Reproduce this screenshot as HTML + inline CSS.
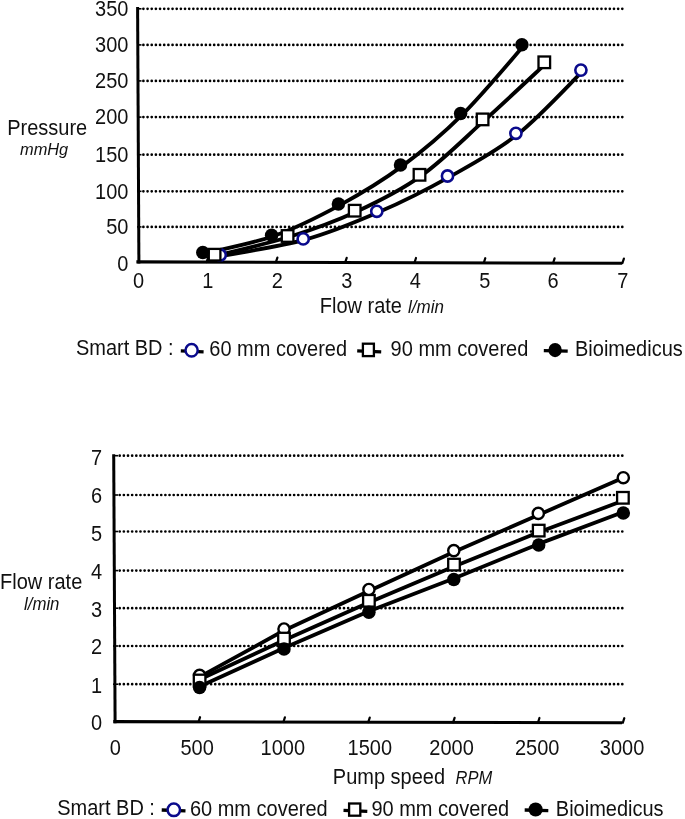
<!DOCTYPE html>
<html><head><meta charset="utf-8"><title>Chart</title>
<style>
html,body{margin:0;padding:0;background:#fff;}
body{width:685px;height:819px;overflow:hidden;}
svg{display:block;filter:blur(0.4px);}
text{font-family:"Liberation Sans",sans-serif;fill:#111;}
</style></head>
<body>
<svg width="685" height="819" viewBox="0 0 685 819">
<rect width="685" height="819" fill="#fff"/>
<line x1="143.4" y1="8.8" x2="622.45" y2="8.8" stroke="#000" stroke-width="2.7" stroke-linecap="round" stroke-dasharray="0 4.1643"/>
<line x1="137" y1="8.8" x2="141.5" y2="8.8" stroke="#000" stroke-width="1.6"/>
<line x1="143.4" y1="44.9" x2="622.45" y2="44.9" stroke="#000" stroke-width="2.7" stroke-linecap="round" stroke-dasharray="0 4.1643"/>
<line x1="137" y1="44.9" x2="141.5" y2="44.9" stroke="#000" stroke-width="1.6"/>
<line x1="143.4" y1="80.9" x2="622.45" y2="80.9" stroke="#000" stroke-width="2.7" stroke-linecap="round" stroke-dasharray="0 4.1643"/>
<line x1="137" y1="80.9" x2="141.5" y2="80.9" stroke="#000" stroke-width="1.6"/>
<line x1="143.4" y1="117.1" x2="622.45" y2="117.1" stroke="#000" stroke-width="2.7" stroke-linecap="round" stroke-dasharray="0 4.1643"/>
<line x1="137" y1="117.1" x2="141.5" y2="117.1" stroke="#000" stroke-width="1.6"/>
<line x1="143.4" y1="154.7" x2="622.45" y2="154.7" stroke="#000" stroke-width="2.7" stroke-linecap="round" stroke-dasharray="0 4.1643"/>
<line x1="137" y1="154.7" x2="141.5" y2="154.7" stroke="#000" stroke-width="1.6"/>
<line x1="143.4" y1="191.3" x2="622.45" y2="191.3" stroke="#000" stroke-width="2.7" stroke-linecap="round" stroke-dasharray="0 4.1643"/>
<line x1="137" y1="191.3" x2="141.5" y2="191.3" stroke="#000" stroke-width="1.6"/>
<line x1="143.4" y1="226.9" x2="622.45" y2="226.9" stroke="#000" stroke-width="2.7" stroke-linecap="round" stroke-dasharray="0 4.1643"/>
<line x1="137" y1="226.9" x2="141.5" y2="226.9" stroke="#000" stroke-width="1.6"/>
<line x1="137.6" y1="7.0" x2="138.9" y2="263.4" stroke="#000" stroke-width="3"/>
<line x1="136.4" y1="261.9" x2="622" y2="263.3" stroke="#000" stroke-width="3.1" stroke-linecap="butt"/>
<line x1="206.6" y1="262" x2="208.1" y2="257.4" stroke="#000" stroke-width="2.2" stroke-linecap="round"/>
<line x1="275.9" y1="262.2" x2="277.4" y2="257.6" stroke="#000" stroke-width="2.2" stroke-linecap="round"/>
<line x1="345.2" y1="262.4" x2="346.7" y2="257.8" stroke="#000" stroke-width="2.2" stroke-linecap="round"/>
<line x1="414.5" y1="262.6" x2="416" y2="258" stroke="#000" stroke-width="2.2" stroke-linecap="round"/>
<line x1="483.8" y1="262.8" x2="485.3" y2="258.2" stroke="#000" stroke-width="2.2" stroke-linecap="round"/>
<line x1="553.1" y1="263" x2="554.6" y2="258.4" stroke="#000" stroke-width="2.2" stroke-linecap="round"/>
<line x1="622.4" y1="263.2" x2="623.9" y2="258.6" stroke="#000" stroke-width="2.2" stroke-linecap="round"/>
<text transform="translate(128.4 16.1) scale(1 1.06)" font-size="20" text-anchor="end">350</text>
<text transform="translate(128.4 52.2) scale(1 1.06)" font-size="20" text-anchor="end">300</text>
<text transform="translate(128.4 88.2) scale(1 1.06)" font-size="20" text-anchor="end">250</text>
<text transform="translate(128.4 124.4) scale(1 1.06)" font-size="20" text-anchor="end">200</text>
<text transform="translate(128.4 162) scale(1 1.06)" font-size="20" text-anchor="end">150</text>
<text transform="translate(128.4 198.6) scale(1 1.06)" font-size="20" text-anchor="end">100</text>
<text transform="translate(128.4 234.2) scale(1 1.06)" font-size="20" text-anchor="end">50</text>
<text transform="translate(128.4 270.6) scale(1 1.06)" font-size="20" text-anchor="end">0</text>
<text transform="translate(138.6 287.6) scale(1 1.06)" font-size="20" text-anchor="middle">0</text>
<text transform="translate(207.8 287.6) scale(1 1.06)" font-size="20" text-anchor="middle">1</text>
<text transform="translate(277.4 287.6) scale(1 1.06)" font-size="20" text-anchor="middle">2</text>
<text transform="translate(346.7 287.6) scale(1 1.06)" font-size="20" text-anchor="middle">3</text>
<text transform="translate(415.4 287.6) scale(1 1.06)" font-size="20" text-anchor="middle">4</text>
<text transform="translate(484.7 287.6) scale(1 1.06)" font-size="20" text-anchor="middle">5</text>
<text transform="translate(553.1 287.6) scale(1 1.06)" font-size="20" text-anchor="middle">6</text>
<text transform="translate(622.8 287.6) scale(1 1.06)" font-size="20" text-anchor="middle">7</text>
<text transform="translate(7.2 134.5) scale(1 1.06)" font-size="20" text-anchor="start">Pressure</text>
<text transform="translate(20 154.7) scale(1 1.06)" font-size="16.4" text-anchor="start" font-style="italic">mmHg</text>
<text transform="translate(319.8 312.8) scale(1 1.06)" font-size="20" text-anchor="start">Flow rate</text>
<text transform="translate(408 312.8) scale(1 1.06)" font-size="17" text-anchor="start" font-style="italic">l/min</text>
<path d="M222.2,255.8 C236.03,253.12 279.1,246.98 305.2,239.7 C331.3,232.42 354.75,222.58 378.8,212.1 C402.85,201.62 426.32,189.8 449.5,176.8 C472.68,163.8 495.67,151.75 517.9,134.1 C540.13,116.45 572.07,81.43 582.9,70.9" fill="none" stroke="#000" stroke-width="3.8" stroke-linejoin="round"/>
<path d="M216.6,255.5 C228.77,252.38 266.25,244.13 289.6,236.8 C312.95,229.47 334.72,221.7 356.7,211.5 C378.68,201.3 400.18,190.82 421.5,175.6 C442.82,160.38 463.8,138.95 484.6,120.2 C505.4,101.45 536.02,72.62 546.3,63.1" fill="none" stroke="#000" stroke-width="3.8" stroke-linejoin="round"/>
<path d="M204.8,253.3 C216.27,250.42 251,244.08 273.6,236 C296.2,227.92 318.92,216.48 340.4,204.8 C361.88,193.12 382.13,180.97 402.5,165.9 C422.87,150.83 442.37,134.45 462.6,114.4 C482.83,94.35 513.68,57.07 523.9,45.6" fill="none" stroke="#000" stroke-width="3.8" stroke-linejoin="round"/>
<circle cx="220.2" cy="255" r="5.6" fill="#fff" stroke="#0a0a8c" stroke-width="2.6"/>
<circle cx="303.2" cy="238.9" r="5.6" fill="#fff" stroke="#0a0a8c" stroke-width="2.6"/>
<circle cx="376.8" cy="211.3" r="5.6" fill="#fff" stroke="#0a0a8c" stroke-width="2.6"/>
<circle cx="447.5" cy="176" r="5.6" fill="#fff" stroke="#0a0a8c" stroke-width="2.6"/>
<circle cx="515.9" cy="133.3" r="5.6" fill="#fff" stroke="#0a0a8c" stroke-width="2.6"/>
<circle cx="580.9" cy="70.1" r="5.6" fill="#fff" stroke="#0a0a8c" stroke-width="2.6"/>
<rect x="208.8" y="248.9" width="11.6" height="11.6" fill="#fff" stroke="#000" stroke-width="2.3"/>
<rect x="281.8" y="230.2" width="11.6" height="11.6" fill="#fff" stroke="#000" stroke-width="2.3"/>
<rect x="348.9" y="204.9" width="11.6" height="11.6" fill="#fff" stroke="#000" stroke-width="2.3"/>
<rect x="413.7" y="169" width="11.6" height="11.6" fill="#fff" stroke="#000" stroke-width="2.3"/>
<rect x="476.8" y="113.6" width="11.6" height="11.6" fill="#fff" stroke="#000" stroke-width="2.3"/>
<rect x="538.5" y="56.5" width="11.6" height="11.6" fill="#fff" stroke="#000" stroke-width="2.3"/>
<circle cx="202.8" cy="252.5" r="6.75" fill="#000"/>
<circle cx="271.6" cy="235.2" r="6.75" fill="#000"/>
<circle cx="338.4" cy="204" r="6.75" fill="#000"/>
<circle cx="400.5" cy="165.1" r="6.75" fill="#000"/>
<circle cx="460.6" cy="113.6" r="6.75" fill="#000"/>
<circle cx="521.9" cy="44.8" r="6.75" fill="#000"/>
<text transform="translate(75.9 354.6) scale(1 1.06)" font-size="20" text-anchor="start">Smart BD :</text>
<line x1="180.8" y1="350.8" x2="203.6" y2="351.8" stroke="#000" stroke-width="3.3"/>
<ellipse cx="191.6" cy="350.3" rx="6.1" ry="6.3" fill="#fff" stroke="#0a0a8c" stroke-width="2.5"/>
<text transform="translate(209.3 356.1) scale(1 1.06)" font-size="20" text-anchor="start">60 mm covered</text>
<line x1="357.2" y1="350.9" x2="381.2" y2="351.8" stroke="#000" stroke-width="3.3"/>
<rect x="362.9" y="343.7" width="11" height="12.4" fill="#fff" stroke="#000" stroke-width="2.3"/>
<text transform="translate(390.6 356.1) scale(1 1.06)" font-size="20" text-anchor="start">90 mm covered</text>
<line x1="543.8" y1="350.6" x2="567.7" y2="351.2" stroke="#000" stroke-width="3.3"/>
<ellipse cx="555.1" cy="350.1" rx="6.7" ry="7.1" fill="#000"/>
<text transform="translate(575 356.1) scale(1 1.06)" font-size="20" text-anchor="start">Bioimedicus</text>
<line x1="119.7" y1="455.7" x2="622.45" y2="455.7" stroke="#000" stroke-width="2.7" stroke-linecap="round" stroke-dasharray="0 4.1537"/>
<line x1="113" y1="455.7" x2="118" y2="455.7" stroke="#000" stroke-width="1.6"/>
<line x1="119.7" y1="495" x2="622.45" y2="495" stroke="#000" stroke-width="2.7" stroke-linecap="round" stroke-dasharray="0 4.1537"/>
<line x1="113" y1="495" x2="118" y2="495" stroke="#000" stroke-width="1.6"/>
<line x1="119.7" y1="531.5" x2="622.45" y2="531.5" stroke="#000" stroke-width="2.7" stroke-linecap="round" stroke-dasharray="0 4.1537"/>
<line x1="113" y1="531.5" x2="118" y2="531.5" stroke="#000" stroke-width="1.6"/>
<line x1="119.7" y1="570.6" x2="622.45" y2="570.6" stroke="#000" stroke-width="2.7" stroke-linecap="round" stroke-dasharray="0 4.1537"/>
<line x1="113" y1="570.6" x2="118" y2="570.6" stroke="#000" stroke-width="1.6"/>
<line x1="119.7" y1="608.2" x2="622.45" y2="608.2" stroke="#000" stroke-width="2.7" stroke-linecap="round" stroke-dasharray="0 4.1537"/>
<line x1="113" y1="608.2" x2="118" y2="608.2" stroke="#000" stroke-width="1.6"/>
<line x1="119.7" y1="646" x2="622.45" y2="646" stroke="#000" stroke-width="2.7" stroke-linecap="round" stroke-dasharray="0 4.1537"/>
<line x1="113" y1="646" x2="118" y2="646" stroke="#000" stroke-width="1.6"/>
<line x1="119.7" y1="684.2" x2="622.45" y2="684.2" stroke="#000" stroke-width="2.7" stroke-linecap="round" stroke-dasharray="0 4.1537"/>
<line x1="113" y1="684.2" x2="118" y2="684.2" stroke="#000" stroke-width="1.6"/>
<line x1="113.7" y1="454.3" x2="115.1" y2="723.2" stroke="#000" stroke-width="3"/>
<line x1="113.3" y1="721.6" x2="622" y2="722.8" stroke="#000" stroke-width="3.1" stroke-linecap="butt"/>
<line x1="198.55" y1="721.8" x2="200.05" y2="717.2" stroke="#000" stroke-width="2.2" stroke-linecap="round"/>
<line x1="283.4" y1="722" x2="284.9" y2="717.4" stroke="#000" stroke-width="2.2" stroke-linecap="round"/>
<line x1="368.25" y1="722.2" x2="369.75" y2="717.6" stroke="#000" stroke-width="2.2" stroke-linecap="round"/>
<line x1="453.1" y1="722.4" x2="454.6" y2="717.8" stroke="#000" stroke-width="2.2" stroke-linecap="round"/>
<line x1="537.95" y1="722.6" x2="539.45" y2="718" stroke="#000" stroke-width="2.2" stroke-linecap="round"/>
<line x1="622.8" y1="722.8" x2="624.3" y2="718.2" stroke="#000" stroke-width="2.2" stroke-linecap="round"/>
<text transform="translate(102.2 464.8) scale(1 1.06)" font-size="20" text-anchor="end">7</text>
<text transform="translate(102.2 503.3) scale(1 1.06)" font-size="20" text-anchor="end">6</text>
<text transform="translate(102.2 540.6) scale(1 1.06)" font-size="20" text-anchor="end">5</text>
<text transform="translate(102.2 578.9) scale(1 1.06)" font-size="20" text-anchor="end">4</text>
<text transform="translate(102.2 616.5) scale(1 1.06)" font-size="20" text-anchor="end">3</text>
<text transform="translate(102.2 654.3) scale(1 1.06)" font-size="20" text-anchor="end">2</text>
<text transform="translate(102.2 692.5) scale(1 1.06)" font-size="20" text-anchor="end">1</text>
<text transform="translate(102.2 729.9) scale(1 1.06)" font-size="20" text-anchor="end">0</text>
<text transform="translate(115.2 755.2) scale(1 1.06)" font-size="20" text-anchor="middle">0</text>
<text transform="translate(197.1 755.2) scale(1 1.06)" font-size="20" text-anchor="middle">500</text>
<text transform="translate(282.8 755.2) scale(1 1.06)" font-size="20" text-anchor="middle">1000</text>
<text transform="translate(369.8 755.2) scale(1 1.06)" font-size="20" text-anchor="middle">1500</text>
<text transform="translate(451.6 755.2) scale(1 1.06)" font-size="20" text-anchor="middle">2000</text>
<text transform="translate(537.2 755.2) scale(1 1.06)" font-size="20" text-anchor="middle">2500</text>
<text transform="translate(622.1 755.2) scale(1 1.06)" font-size="20" text-anchor="middle">3000</text>
<text transform="translate(0.1 589.4) scale(1 1.06)" font-size="20" text-anchor="start">Flow rate</text>
<text transform="translate(24 610) scale(1 1.06)" font-size="16.8" text-anchor="start" font-style="italic">l/min</text>
<text transform="translate(332.8 784) scale(1 1.06)" font-size="20" text-anchor="start">Pump speed</text>
<text transform="translate(455.6 784) scale(1 1.06)" font-size="16.5" text-anchor="start" font-style="italic">RPM</text>
<path d="M199.6,676.9 L284,630.5 L368.9,591 L453.8,552.1 L538.3,514.9 L623.3,477.7" fill="none" stroke="#000" stroke-width="3.8" stroke-linejoin="round"/>
<path d="M199.6,679.5 L284,640.2 L368.9,602.6 L454,566.6 L538.7,532.2 L622.9,500.8" fill="none" stroke="#000" stroke-width="3.8" stroke-linejoin="round"/>
<path d="M199.6,686.4 L284,648 L368.9,611.3 L453.8,578.5 L538.7,543.9 L623.3,512" fill="none" stroke="#000" stroke-width="3.8" stroke-linejoin="round"/>
<circle cx="199.6" cy="675.4" r="5.6" fill="#fff" stroke="#000" stroke-width="2.4"/>
<circle cx="284" cy="629" r="5.6" fill="#fff" stroke="#000" stroke-width="2.4"/>
<circle cx="368.9" cy="589.5" r="5.6" fill="#fff" stroke="#000" stroke-width="2.4"/>
<circle cx="453.8" cy="550.6" r="5.6" fill="#fff" stroke="#000" stroke-width="2.4"/>
<circle cx="538.3" cy="513.4" r="5.6" fill="#fff" stroke="#000" stroke-width="2.4"/>
<circle cx="623.3" cy="477.7" r="5.6" fill="#fff" stroke="#000" stroke-width="2.4"/>
<rect x="193.8" y="674.7" width="11.6" height="11.6" fill="#fff" stroke="#000" stroke-width="2.3"/>
<rect x="278.2" y="632.8" width="11.6" height="11.6" fill="#fff" stroke="#000" stroke-width="2.3"/>
<rect x="363.1" y="595" width="11.6" height="11.6" fill="#fff" stroke="#000" stroke-width="2.3"/>
<rect x="448.2" y="558.8" width="11.6" height="11.6" fill="#fff" stroke="#000" stroke-width="2.3"/>
<rect x="532.9" y="524.8" width="11.6" height="11.6" fill="#fff" stroke="#000" stroke-width="2.3"/>
<rect x="617.1" y="492" width="11.6" height="11.6" fill="#fff" stroke="#000" stroke-width="2.3"/>
<circle cx="199.6" cy="687.4" r="6.75" fill="#000"/>
<circle cx="284" cy="649" r="6.75" fill="#000"/>
<circle cx="368.9" cy="612.3" r="6.75" fill="#000"/>
<circle cx="453.8" cy="579.5" r="6.75" fill="#000"/>
<circle cx="538.7" cy="544.9" r="6.75" fill="#000"/>
<circle cx="623.3" cy="513" r="6.75" fill="#000"/>
<text transform="translate(57.2 814.5) scale(1 1.06)" font-size="20" text-anchor="start">Smart BD :</text>
<line x1="161.7" y1="810" x2="185.5" y2="810.8" stroke="#000" stroke-width="3.3"/>
<ellipse cx="173.8" cy="809.8" rx="6.2" ry="6.3" fill="#fff" stroke="#0a0a8c" stroke-width="2.5"/>
<text transform="translate(189.9 815.6) scale(1 1.06)" font-size="20" text-anchor="start">60 mm covered</text>
<line x1="343.5" y1="810.4" x2="367.3" y2="811.3" stroke="#000" stroke-width="3.3"/>
<rect x="349.1" y="803.5" width="11.2" height="12.2" fill="#fff" stroke="#000" stroke-width="2.3"/>
<text transform="translate(371.4 815.6) scale(1 1.06)" font-size="20" text-anchor="start">90 mm covered</text>
<line x1="524.7" y1="810" x2="548.3" y2="810.6" stroke="#000" stroke-width="3.3"/>
<ellipse cx="535.6" cy="809.5" rx="7.1" ry="7.1" fill="#000"/>
<text transform="translate(555.8 815.6) scale(1 1.06)" font-size="20" text-anchor="start">Bioimedicus</text>
</svg>
</body></html>
